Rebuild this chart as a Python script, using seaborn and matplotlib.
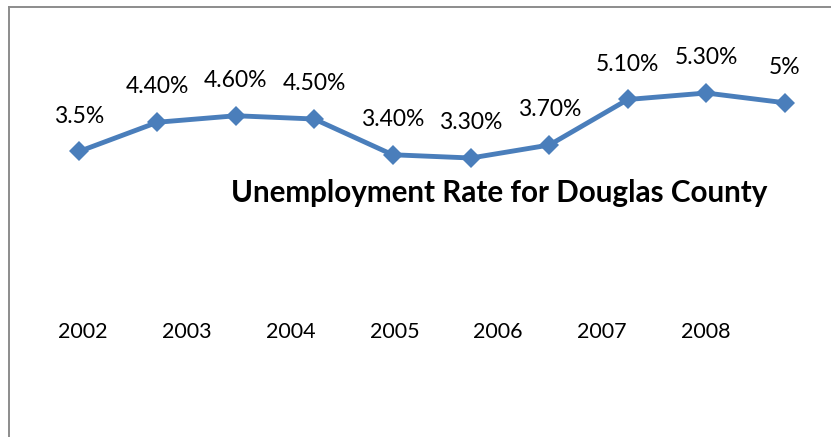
import numpy as np
import pandas as pd
import matplotlib
matplotlib.use('Agg')
import matplotlib.pyplot as plt
import matplotlib.transforms as mtransforms
import seaborn as sns

# Values
rates = [3.5, 4.4, 4.6, 4.5, 3.4, 3.3, 3.7, 5.1, 5.3, 5.0]
rate_labels = ['3.5%', '4.40%', '4.60%', '4.50%', '3.40%', '3.30%', '3.70%', '5.10%', '5.30%', '5%']
years = ['2002', '2003', '2004', '2005', '2006', '2007', '2008']
title = 'Unemployment Rate for Douglas County'

line_color = '#4A7EBB'
border_color = '#8C8C8C'

sns.set_theme(style='white')
plt.rcParams['font.family'] = ['Lato', 'DejaVu Sans']

df = pd.DataFrame({'point': np.arange(len(rates)), 'rate': rates})

fig = plt.figure(figsize=(8.31, 4.37), dpi=100)
W, H = 831, 437
left_px, top_px = 8.5, 7
ax = fig.add_axes([left_px / W, 0, 1 - left_px / W, 1 - top_px / H])

sns.lineplot(data=df, x='point', y='rate', ax=ax, color=line_color, linewidth=3.5,
             marker='D', markersize=10, markeredgewidth=0)

# axis scaling so the series sits where it does in the reference
step, x0 = 78.4, 79
ax.set_xlim((left_px - x0) / step, (W - x0) / step)
ppu, y_zero = 32.5, 265.25
ax.set_ylim((y_zero - H) / ppu, (y_zero - top_px) / ppu)

for i, (v, lab) in enumerate(zip(rates, rate_labels)):
    ax.annotate(lab, (i, v), xytext=(0, 25.5), textcoords='offset points',
                ha='center', va='center', fontsize=16.5, color='black')

# year labels sit on their own category scale
ax2 = ax.twiny()
ystep, yx0 = 103.8, 83
ax2.set_xlim((left_px - yx0) / ystep, (W - yx0) / ystep)
ax2.set_xticks([])
trans = mtransforms.blended_transform_factory(ax2.transData, ax2.transAxes)
for j, yr in enumerate(years):
    ax2.text(j, (H - 332) / (H - top_px), yr, transform=trans, ha='center', va='center',
             fontsize=15.5, color='black')

ax.set_title(title, fontsize=21.3, fontweight='bold', color='black', pad=0,
             x=(499.5 - left_px) / (W - left_px),
             y=(H - 202) / (H - top_px), va='baseline')

ax.set_xticks([])
ax.set_yticks([])
ax.set_xlabel('')
ax.set_ylabel('')
for a in (ax, ax2):
    for side in ['right', 'bottom']:
        a.spines[side].set_visible(False)
    for side in ['left', 'top']:
        a.spines[side].set_color(border_color)
        a.spines[side].set_linewidth(1.2)

fig.savefig('out.png', dpi=100)
